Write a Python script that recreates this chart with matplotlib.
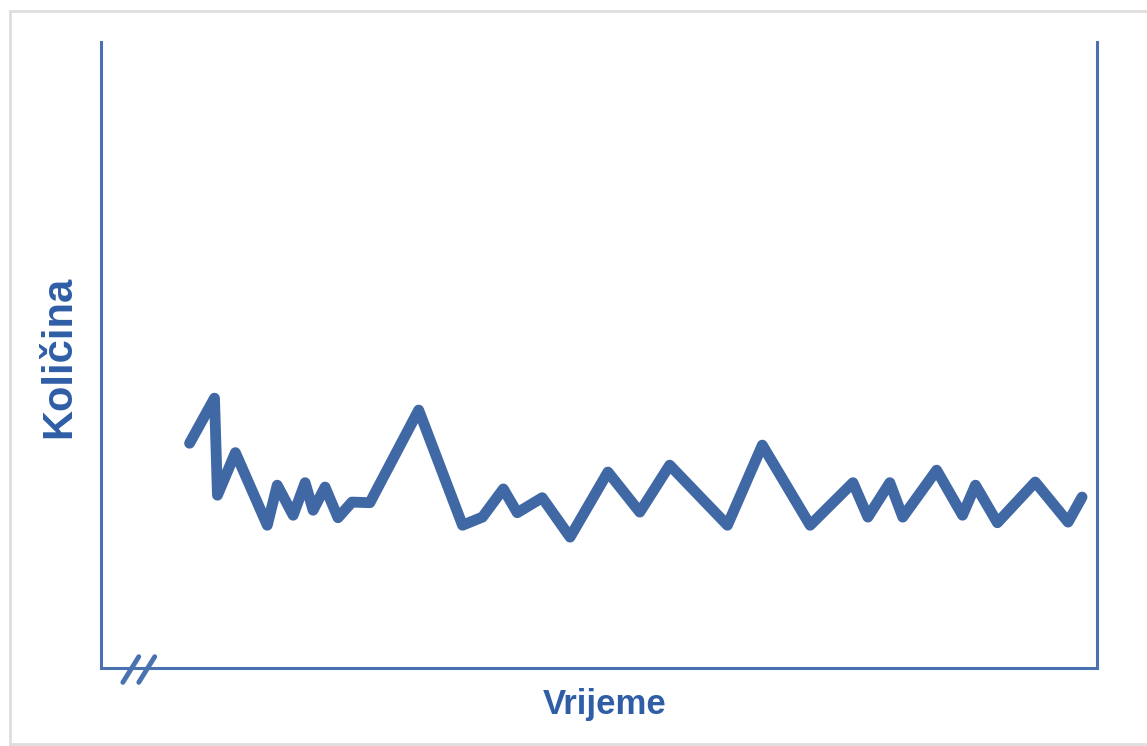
import matplotlib
matplotlib.use("Agg")
import matplotlib.pyplot as plt
from matplotlib.lines import Line2D

# Data (time in arbitrary units 0-100, quantity in arbitrary units 0-100)
vrijeme = [8.9, 11.4, 11.7, 13.5, 16.7, 17.7, 19.3, 20.5, 21.3, 22.5, 23.8, 25.2,
           27.0, 31.9, 36.3, 38.3, 40.4, 41.8, 44.3, 47.1, 50.9, 54.1, 57.1, 62.9,
           66.4, 71.2, 75.5, 77.0, 79.2, 80.5, 83.9, 86.5, 87.8, 90.0, 93.8, 97.1, 98.5]
kolicina = [35.9, 43.1, 27.6, 34.4, 22.8, 29.2, 24.4, 29.6, 25.2, 28.9, 24.0, 26.5,
            26.4, 41.2, 22.8, 24.1, 28.6, 24.8, 27.2, 20.9, 31.3, 24.9, 32.4, 22.8,
            35.6, 22.8, 29.6, 24.1, 29.6, 24.1, 31.6, 24.4, 29.2, 23.2, 29.7, 23.3, 27.3]
x_label = "Vrijeme"
y_label = "Količina"

line_color = "#4068a4"
axis_color = "#4a72b0"
text_color = "#2f5ea6"

fig = plt.figure(figsize=(11.47, 7.46), dpi=100)
fig.patch.set_facecolor("white")

# light grey frame around the picture
for xs, ys in [([0.009, 0.009], [0.003, 0.985]),
               ([0.009, 1.0], [0.985, 0.985]),
               ([0.009, 1.0], [0.003, 0.003])]:
    fig.add_artist(Line2D(xs, ys, transform=fig.transFigure, color="#dedede", lw=2))

ax = fig.add_axes([0.088, 0.1046, 0.8684, 0.8391])
ax.plot(vrijeme, kolicina, color=line_color, lw=7.8, solid_joinstyle="round",
        solid_capstyle="round")
ax.set_xlim(0, 100)
ax.set_ylim(0, 100)
ax.set_xticks([])
ax.set_yticks([])
for side in ["left", "bottom", "right"]:
    ax.spines[side].set_color(axis_color)
    ax.spines[side].set_linewidth(2.2)
ax.spines["top"].set_visible(False)

# axis break marks on the bottom axis
for x0 in [2.2, 3.8]:
    ax.plot([x0, x0 + 1.6], [-2.3, 1.8], color=axis_color, lw=3.5,
            clip_on=False, solid_capstyle="round")

fig.text(0.527, 0.055, x_label, ha="center", va="center", fontsize=25,
         fontweight="bold", color=text_color, family="Liberation Sans")
fig.text(0.0514, 0.522, y_label, ha="center", va="center", rotation=90, fontsize=30,
         fontweight="bold", color=text_color, family="Liberation Sans")

fig.savefig("out.png", dpi=100, facecolor="white")
